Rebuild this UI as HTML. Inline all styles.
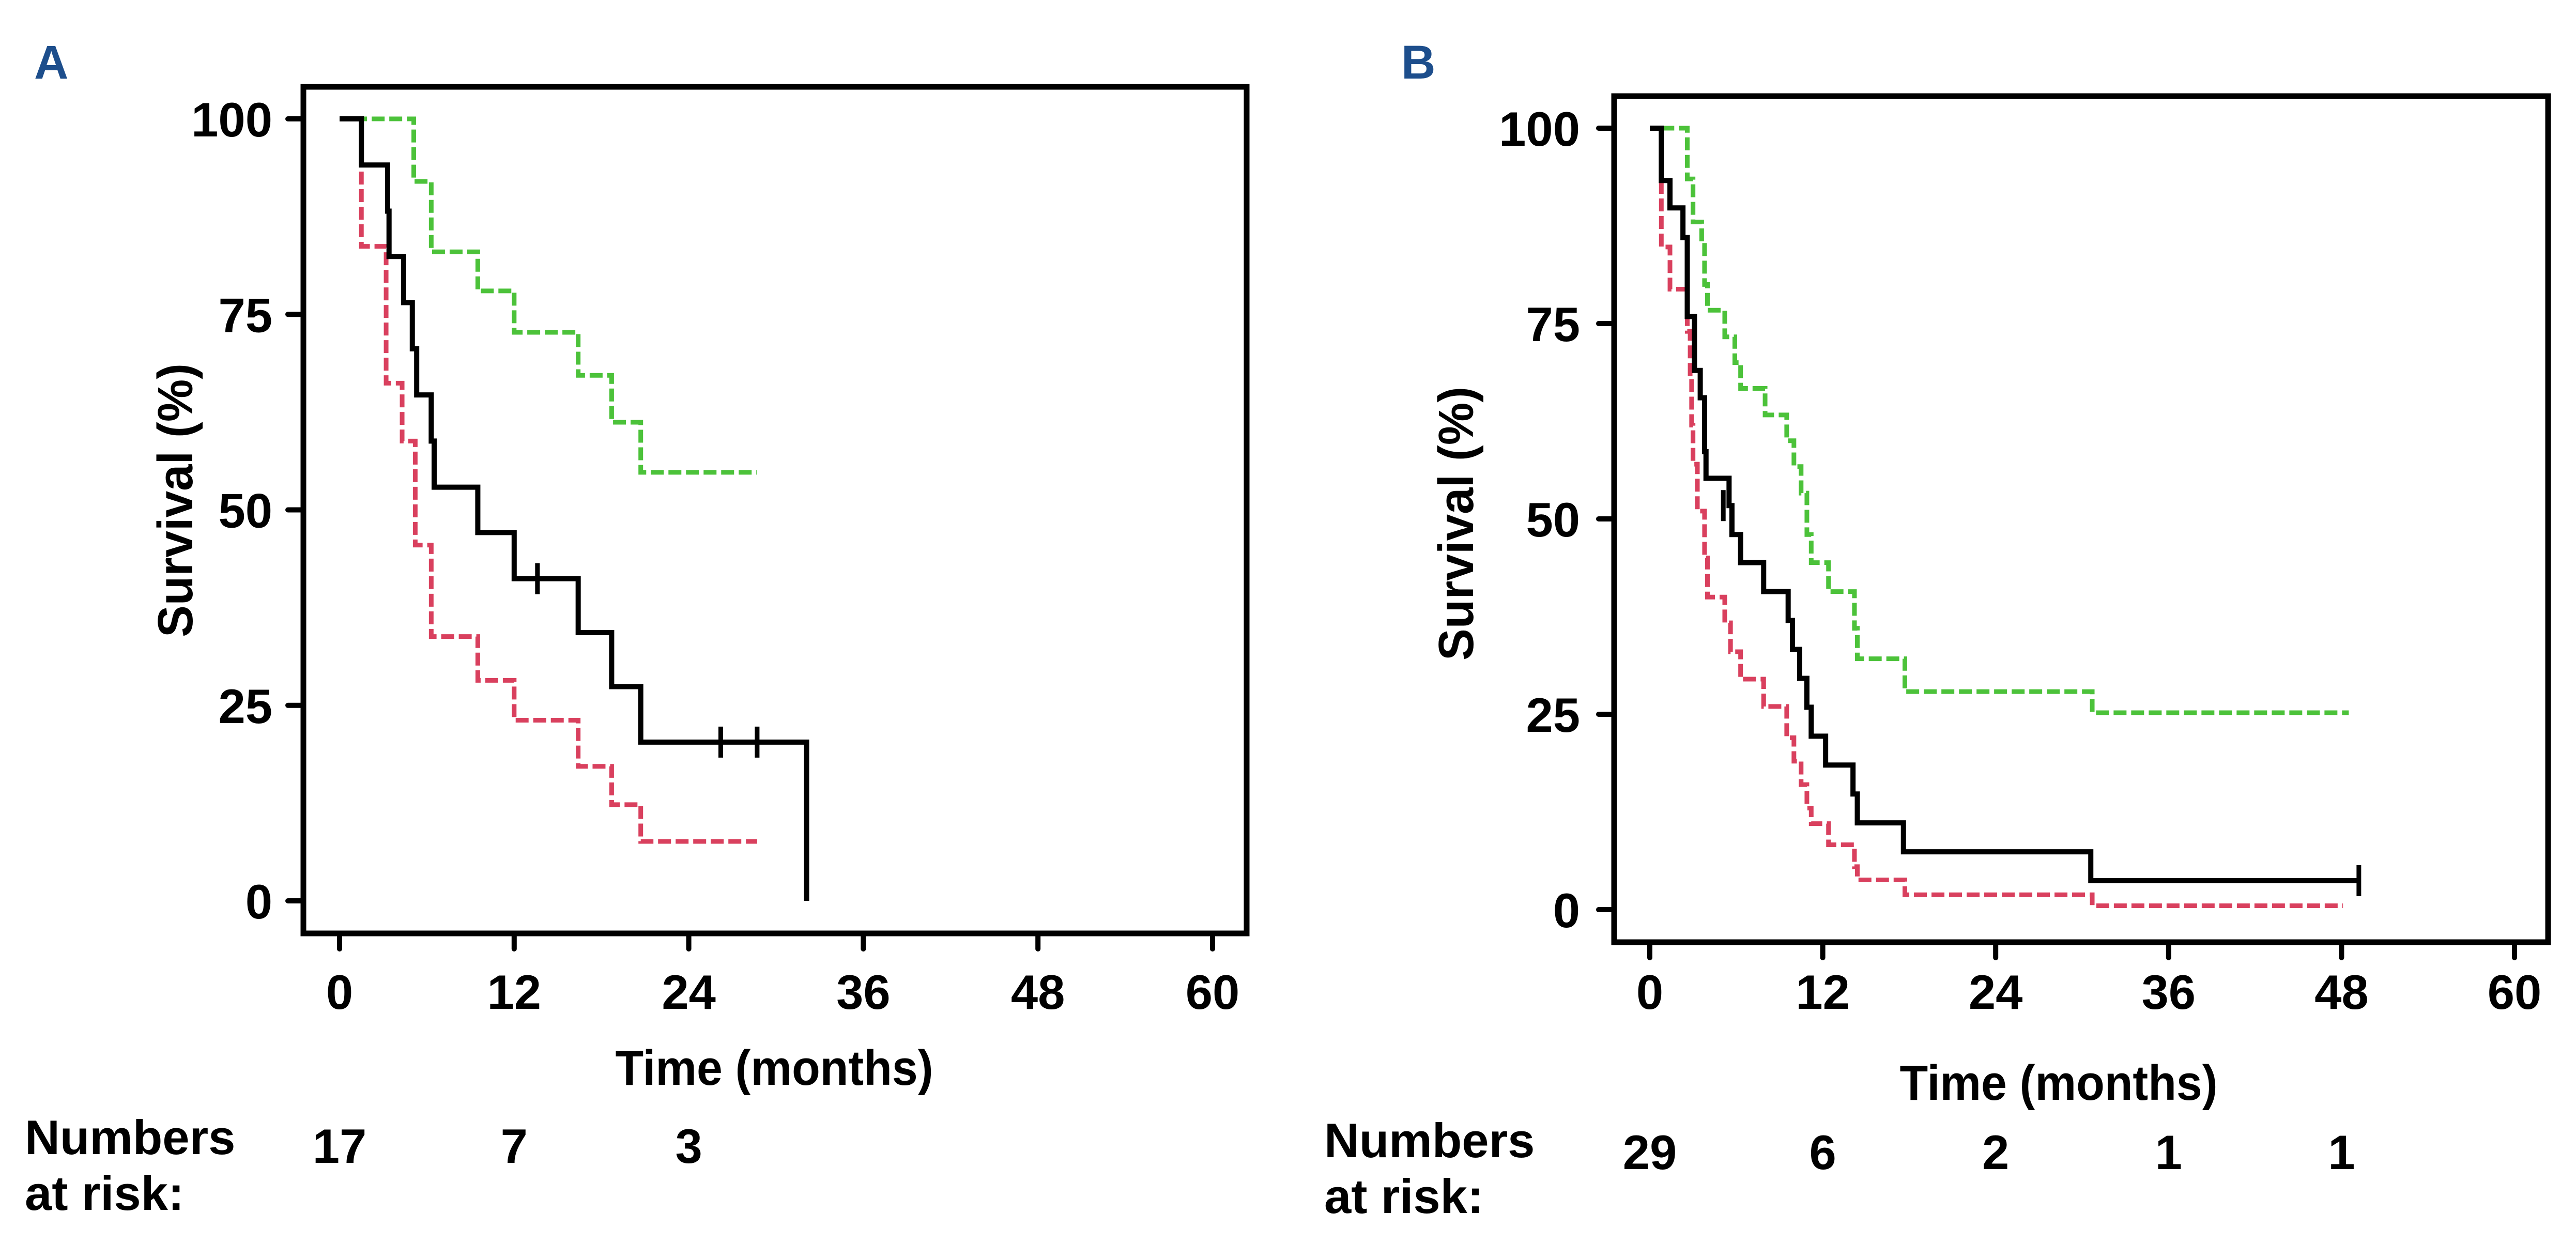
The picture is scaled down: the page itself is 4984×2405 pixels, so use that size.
<!DOCTYPE html>
<html><head><meta charset="utf-8"><style>
html,body{margin:0;padding:0;background:#fff;}
svg{display:block;font-family:"Liberation Sans",Arial,sans-serif;font-weight:bold;}
</style></head><body>
<svg id="fig" width="4984" height="2405" viewBox="0 0 4984 2405" xmlns="http://www.w3.org/2000/svg">
<rect width="4984" height="2405" fill="#fff"/>
</svg>
<script>
// ---- Panel A data ----
const A_black = [[0,100],[1.5,94.1],[3.3,88.2],[3.4,82.4],[4.4,76.5],[5.0,70.6],[5.3,64.7],[6.3,58.8],[6.5,52.9],[9.5,47.1],[12.0,41.2],[16.4,34.3],[18.7,27.4],[20.7,20.3],[32.1,0]];
const A_black_end = 32.1;
const A_black_cens = [[13.6,41.2],[26.2,20.3],[28.7,20.3]];
const A_green = [[1.0,100],[5.1,92],[6.3,83],[9.5,78],[12.0,72.7],[16.4,67.2],[18.7,61.2],[20.7,54.8]];
const A_green_end = 28.7;
const A_red = [[1.5,100],[1.5,83.7],[3.2,66.2],[4.3,58.8],[5.2,45.5],[6.3,33.8],[9.5,28.2],[12.0,23.1],[16.4,17.2],[18.7,12.3],[20.7,7.6]];
const A_red_end = 28.7;
const A_risk = ["17","7","3"];
const A_riskTimes = [0,12,24];
// ---- Panel B data ----
const B_black = [[0,100],[0.8,93.3],[1.4,89.8],[2.3,86],[2.6,75.9],[3.1,69],[3.5,65.5],[3.8,58.6],[3.9,55.2],[5.5,51.7],[5.7,48],[6.3,44.4],[7.9,40.7],[9.6,37],[9.9,33.3],[10.4,29.6],[10.9,25.9],[11.2,22.2],[12.2,18.5],[14.1,14.8],[14.4,11.1],[17.6,7.4],[30.6,3.7]];
const B_black_end = 49.3;
const B_black_cens = [[5.1,51.7],[49.2,3.7]];
const B_green = [[0.8,100],[2.6,93.5],[3.0,88],[3.6,85],[3.8,80],[4.0,76.7],[5.2,73.3],[5.9,70],[6.3,66.7],[8.0,63.3],[9.5,60],[10.0,56.7],[10.5,53.3],[10.9,48],[11.2,44.4],[12.4,40.7],[14.2,36],[14.4,32.1],[17.7,27.9],[30.7,25.2]];
const B_green_end = 48.5;
const B_red = [[0.8,100],[0.8,84.8],[1.4,79.4],[2.6,74],[2.8,68],[2.9,62],[3.0,57],[3.3,51],[3.8,45],[4.0,40],[5.2,36.7],[5.6,33],[6.3,29.5],[7.9,26],[9.5,22],[10.0,19],[10.5,16],[10.9,13],[11.2,11],[12.4,8.3],[14.2,5.5],[14.4,3.8],[17.7,1.9],[30.7,0.5]];
const B_red_end = 48.1;
const B_risk = ["29","6","2","1","1"];
const B_riskTimes = [0,12,24,36,48];
const xTicks = [0,12,24,36,48,60];
const yTicks = [0,25,50,75,100];

const NS="http://www.w3.org/2000/svg";
const svg=document.getElementById('fig');
function mk(tag,attrs,parent){const e=document.createElementNS(NS,tag);for(const k in attrs)e.setAttribute(k,attrs[k]);(parent||svg).appendChild(e);return e;}

function panel(P){
  const g=mk('g',{});
  
  
  const sx=t=>P.x0+(P.x60-P.x0)*t/60;
  const sy=v=>P.y0+(P.y100-P.y0)*v/100;
  const lbl=mk('text',{x:P.lx,y:P.ly,'font-size':92,fill:'#1d4e8c','font-weight':'bold'},g);
  lbl.textContent=P.id;
  
  
  const box=mk('rect',{x:P.bl,y:P.bt,width:P.br-P.bl,height:P.bb-P.bt,fill:'none',stroke:'#000','stroke-width':11},g);
  
  
  xTicks.forEach(t=>{
    const l=mk('line',{x1:sx(t),x2:sx(t),y1:P.bb,y2:P.bb+30,stroke:'#000','stroke-width':10,'stroke-linecap':'round'},g);
    
    
    const tx=mk('text',{x:sx(t),y:P.xly,'font-size':94,'text-anchor':'middle'},g);
    tx.textContent=t;
    
    
  });
  yTicks.forEach(v=>{
    const l=mk('line',{x1:P.bl-30,x2:P.bl,y1:sy(v),y2:sy(v),stroke:'#000','stroke-width':10,'stroke-linecap':'round'},g);
    
    
    const tx=mk('text',{x:P.ylx,y:sy(v)+34,'font-size':94,'text-anchor':'end'},g);
    tx.textContent=v;
    
    
  });
  const yt=mk('text',{x:0,y:0,'font-size':96,'text-anchor':'middle',textLength:530,lengthAdjust:'spacingAndGlyphs',transform:`translate(${P.ytx+34},${P.yty}) rotate(-90)`},g);
  yt.textContent='Survival (%)';
  
  
  const xt=mk('text',{x:P.xtx,y:P.xty+34,'font-size':96,'text-anchor':'middle',textLength:615,lengthAdjust:'spacingAndGlyphs'},g);
  xt.textContent='Time (months)';
  
  
  function curve(pts,end,color,dash,name,dropEnd){
    let d=`M${sx(pts[0][0])},${sy(pts[0][1])}`;
    for(let i=1;i<pts.length;i++){d+=` H${sx(pts[i][0])} V${sy(pts[i][1])}`;}
    if(!dropEnd) d+=` H${sx(end)}`;
    const p=mk('path',{d:d,fill:'none',stroke:color,'stroke-width':dash?9:10,'stroke-dasharray':dash?'25 9':'none'},g);
    
    
  }
  curve(P.green,P.greenEnd,'#4cc23a',true,'curve-green',false);
  curve(P.red,P.redEnd,'#d9405e',true,'curve-red',false);
  curve(P.black,P.blackEnd,'#000',false,'curve-black',P.blackDrop);
  P.cens.forEach(c=>{
    const l=mk('line',{x1:sx(c[0]),x2:sx(c[0]),y1:sy(c[1])-30,y2:sy(c[1])+30,stroke:'#000','stroke-width':9},g);
    
    
  });
  const n1=mk('text',{x:P.nx,y:P.ny1,'font-size':94},g);
  n1.textContent='Numbers';
  
  
  const n2=mk('text',{x:P.nx,y:P.ny2,'font-size':94},g);
  n2.textContent='at risk:';
  
  
  P.risk.forEach((r,i)=>{
    const t=mk('text',{x:sx(P.riskT[i]),y:P.ry,'font-size':94,'text-anchor':'middle'},g);
    t.textContent=r;
    
    
  });
}
panel({id:'A',lx:66,ly:152,bl:587,bt:168,br:2412,bb:1806,x0:657,x60:2346,y0:1743,y100:230,
  xly:1952,ylx:527,ytx:338,yty:968,xtx:1498,xty:2065,nx:48,ny1:2233,ny2:2341,ry:2250,
  black:A_black,blackEnd:A_black_end,blackDrop:true,cens:A_black_cens,green:A_green,greenEnd:A_green_end,red:A_red,redEnd:A_red_end,risk:A_risk,riskT:A_riskTimes});
panel({id:'B',lx:2711,ly:152,bl:3123,bt:186,br:4930,bb:1823,x0:3192,x60:4865,y0:1760,y100:248,
  xly:1952,ylx:3057,ytx:2816,yty:1013,xtx:3983,xty:2094,nx:2562,ny1:2239,ny2:2347,ry:2262,
  black:B_black,blackEnd:B_black_end,blackDrop:false,cens:B_black_cens,green:B_green,greenEnd:B_green_end,red:B_red,redEnd:B_red_end,risk:B_risk,riskT:B_riskTimes});
</script>
</body></html>
